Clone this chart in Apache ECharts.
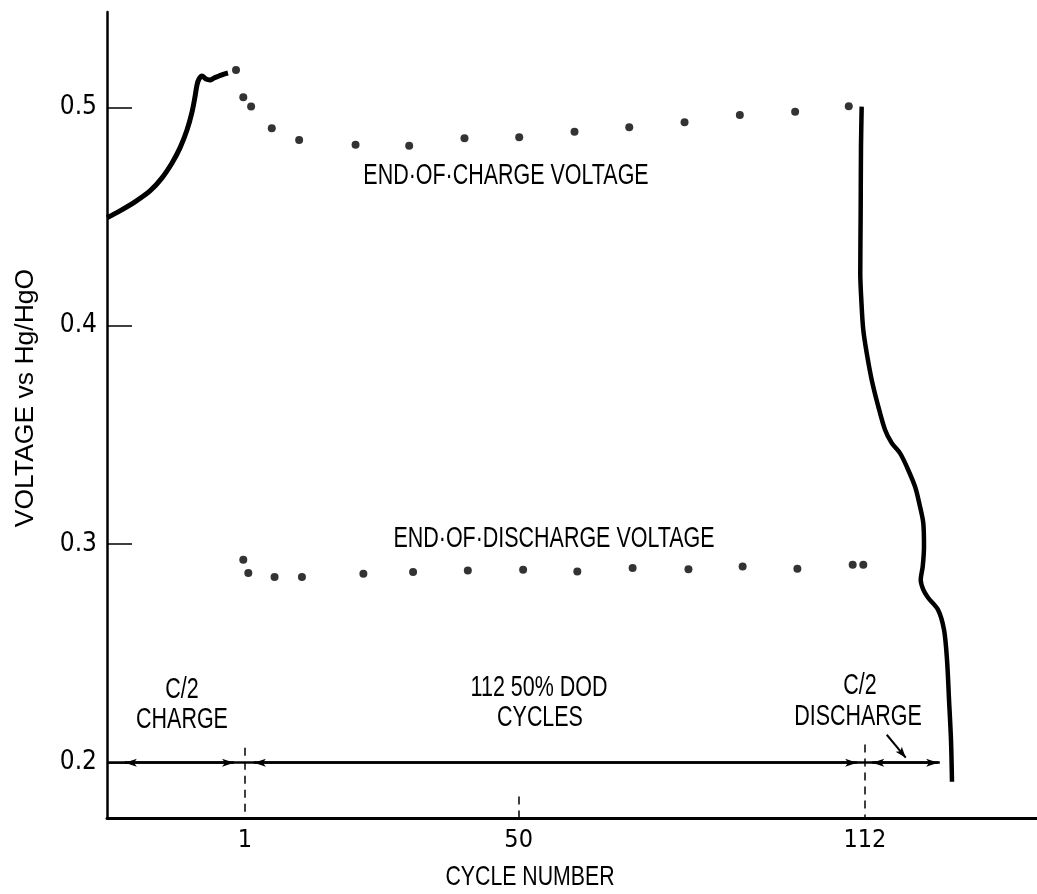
<!DOCTYPE html>
<html>
<head>
<meta charset="utf-8">
<script src="https://cdn.jsdelivr.net/npm/echarts@6.0.0/dist/echarts.min.js"></script>
<style>
  html, body { margin: 0; padding: 0; background: #fff; }
  #chart { width: 1037px; height: 894px; }
</style>
</head>
<body>
<div id="chart"></div>
<script>
// C/2 charge before cycling (x in cycle-equivalent units, V vs Hg/HgO)
const chargeCurveX = [-23.70, -21.37, -18.69, -16.00, -13.85, -12.06, -10.63, -9.38, -8.48, -7.95, -7.59, -7.23, -6.69, -5.98, -5.26, -4.54, -3.65, -2.75, -2.04];
const chargeCurveV = [0.4494, 0.4526, 0.4567, 0.4617, 0.4677, 0.4745, 0.4814, 0.4896, 0.4978, 0.5047, 0.5102, 0.5129, 0.5143, 0.5129, 0.5125, 0.5134, 0.5143, 0.5152, 0.5157];

// C/2 discharge after cycle 112
const dischargeCurveX = [111.41, 111.29, 111.23, 111.16, 111.41, 111.70, 112.31, 113.21, 114.39, 115.59, 116.79, 118.27, 119.47, 120.96, 121.85, 122.44, 122.57, 122.34, 121.98, 122.44, 123.34, 125.08, 126.15, 126.69, 127.05, 127.40, 127.58];
const dischargeCurveV = [0.5003, 0.4820, 0.4516, 0.4242, 0.4088, 0.3981, 0.3876, 0.3752, 0.3630, 0.3524, 0.3463, 0.3417, 0.3356, 0.3264, 0.3173, 0.3097, 0.2990, 0.2898, 0.2837, 0.2792, 0.2754, 0.2700, 0.2609, 0.2471, 0.2288, 0.2105, 0.1913];

// End-of-charge voltage per cycle
const endChargeCycle = [-0.6, 0.7, 2.1, 5.8, 10.7, 20.8, 30.4, 40.3, 50.1, 60.0, 69.8, 79.7, 89.6, 99.5, 109.1];
const endChargeV = [0.5171, 0.5046, 0.5003, 0.4904, 0.4850, 0.4828, 0.4824, 0.4858, 0.4863, 0.4888, 0.4909, 0.4931, 0.4965, 0.4980, 0.5005];

// End-of-discharge voltage per cycle
const endDischargeCycle = [0.7, 1.6, 6.3, 11.2, 22.2, 31.1, 40.9, 50.8, 60.5, 70.4, 80.4, 90.1, 99.9, 109.8, 111.7];
const endDischargeV = [0.2929, 0.2868, 0.2850, 0.2850, 0.2865, 0.2873, 0.2880, 0.2883, 0.2875, 0.2891, 0.2886, 0.2898, 0.2888, 0.2906, 0.2906];

// Axis tick labels
const xTickValues = [1, 50, 112];
const yTickValues = [0.2, 0.3, 0.4, 0.5];

const zip = (xs, ys) => xs.map((x, i) => [x, ys[i]]);

const X_MIN = -23.7, X_MAX = 142.8;
const Y_MIN = 0.1747, Y_MAX = 0.5436;
const INK = '#000';
const NARROW = '"Liberation Sans Narrow", "DejaVu Sans Condensed", "Liberation Sans", sans-serif';
const SANS = '"Liberation Sans", Arial, sans-serif';

function label(text, x, y, size, sx, rot) {
  return {
    type: 'text', x: x, y: y, scaleX: sx, rotation: rot || 0, silent: true,
    style: { text: text, x: 0, y: 0, fill: INK, font: size + 'px ' + SANS, textAlign: 'center', textVerticalAlign: 'middle' }
  };
}

const chart = echarts.init(document.getElementById('chart'), null, { renderer: 'canvas' });

const arrowLine = { color: INK, width: 2.5, type: 'solid' };
const leaderLine = { color: INK, width: 2, type: 'solid' };
const dashLine = { color: INK, width: 1.5, type: [8, 6] };
const AH = [6, 12];

chart.setOption({
  animation: false,
  backgroundColor: '#fff',
  grid: { left: 107, right: 0, top: 12, bottom: 76, containLabel: false },
  xAxis: {
    type: 'value', min: X_MIN, max: X_MAX,
    axisLine: { onZero: false, lineStyle: { color: INK, width: 3 } },
    axisTick: { show: false },
    splitLine: { show: false },
    axisLabel: {
      customValues: xTickValues, color: INK, fontSize: 25, fontFamily: NARROW, margin: 10,
      formatter: v => String(v)
    }
  },
  yAxis: {
    type: 'value', min: Y_MIN, max: Y_MAX,
    axisLine: { show: true, onZero: false, lineStyle: { color: INK, width: 2.5 } },
    axisTick: { show: true, inside: true, length: 25, customValues: yTickValues, lineStyle: { color: INK, width: 1.5 } },
    splitLine: { show: false },
    axisLabel: {
      customValues: yTickValues, color: INK, fontSize: 26, fontFamily: NARROW, margin: 10,
      formatter: v => v.toFixed(1)
    }
  },
  graphic: [
    label('END·OF·CHARGE VOLTAGE', 506, 176, 29, 0.74),
    label('END·OF·DISCHARGE VOLTAGE', 554, 539, 29, 0.74),
    label('C/2', 182, 690, 29, 0.74),
    label('CHARGE', 182, 720, 29, 0.74),
    label('112 50% DOD', 539, 688, 29, 0.74),
    label('CYCLES', 540, 718, 29, 0.74),
    label('C/2', 860, 686, 29, 0.74),
    label('DISCHARGE', 858, 717, 29, 0.74),
    label('CYCLE NUMBER', 530, 877, 28, 0.76),
    label('VOLTAGE vs Hg/HgO', 26, 398, 26, 1.02, Math.PI / 2)
  ],
  series: [
    {
      name: 'C/2 charge', type: 'line', data: zip(chargeCurveX, chargeCurveV),
      showSymbol: false, smooth: 0.3, lineStyle: { color: INK, width: 5 }, z: 3
    },
    {
      name: 'C/2 discharge', type: 'line', data: zip(dischargeCurveX, dischargeCurveV),
      showSymbol: false, smooth: 0.3, lineStyle: { color: INK, width: 4.5 }, z: 3
    },
    {
      name: 'End-of-charge voltage', type: 'scatter', data: zip(endChargeCycle, endChargeV),
      symbol: 'circle', symbolSize: 8, itemStyle: { color: INK }, z: 4
    },
    {
      name: 'End-of-discharge voltage', type: 'scatter', data: zip(endDischargeCycle, endDischargeV),
      symbol: 'circle', symbolSize: 8, itemStyle: { color: INK }, z: 4,
      markLine: {
        silent: true, animation: false, label: { show: false },
        symbol: ['none', 'none'],
        data: [
          // interval line at 0.2 V
          [{ coord: [X_MIN, 0.2], lineStyle: arrowLine }, { coord: [125.4, 0.2] }],
          // double arrows: charge, cycling, discharge
          [{ coord: [-20.5, 0.2], symbol: 'arrow', symbolSize: AH, lineStyle: arrowLine }, { coord: [-0.96, 0.2], symbol: 'arrow', symbolSize: AH }],
          [{ coord: [2.6, 0.2], symbol: 'arrow', symbolSize: AH, lineStyle: arrowLine }, { coord: [110.6, 0.2], symbol: 'arrow', symbolSize: AH }],
          [{ coord: [113.3, 0.2], symbol: 'arrow', symbolSize: AH, lineStyle: arrowLine }, { coord: [125.1, 0.2], symbol: 'arrow', symbolSize: AH }],
          // leader from the DISCHARGE note
          [{ coord: [115.9, 0.2128], symbol: 'none', lineStyle: leaderLine }, { coord: [119.3, 0.2023], symbol: 'arrow', symbolSize: [6, 11] }],
          // dashed tick marks at 1, 50, 112
          [{ coord: [1, 0.2069], lineStyle: dashLine }, { coord: [1, Y_MIN] }],
          [{ coord: [50, 0.1845], lineStyle: dashLine }, { coord: [50, Y_MIN] }],
          [{ coord: [112, 0.2083], lineStyle: dashLine }, { coord: [112, Y_MIN] }]
        ]
      }
    }
  ]
});
</script>
</body>
</html>
